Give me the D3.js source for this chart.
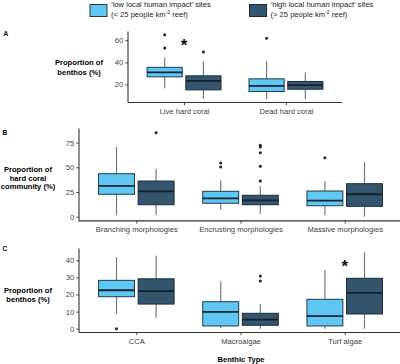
<!DOCTYPE html>
<html>
<head>
<meta charset="utf-8">
<script src="https://cdn.jsdelivr.net/npm/d3@7"></script>
<style>
  html, body { margin: 0; padding: 0; background: #ffffff; }
  svg { display: block; font-family: "Liberation Sans", Arial, sans-serif; }
</style>
</head>
<body>
<svg id="chart" width="400" height="364"></svg>
<script>
// ---------------- DATA ----------------
// box stats: [lower whisker, Q1, median, Q3, upper whisker]
const groupNames = ["low", "high"];

const catsA = ["Live hard coral", "Dead hard coral"];
const lowA  = [[16.6, 26.9, 30.9, 35.5, 44.5], [6.6, 13.6, 18.7, 25.1, 40.9]];
const highA = [[6.9, 15.1, 23.3, 27.8, 40.9], [6.6, 15.7, 19.4, 22.7, 30.9]];
const outLowA  = [[53, 65], [61.8]];
const outHighA = [[49.4], []];
const ticksA = [20, 40, 60];
const starA = [{cat: "Live hard coral", value: 59}];

const catsB = ["Branching morphologies", "Encrusting morphologies", "Massive morphologies"];
const lowB  = [[1.4, 22.7, 31.1, 43.5, 70.5], [7.1, 13.6, 18.6, 25.7, 36.8], [1.4, 11.1, 16.2, 26.0, 36.1]];
const highB = [[1.4, 12.1, 25.7, 36.1, 48.6], [2.7, 12.1, 16.6, 21.7, 31.1], [0, 10.5, 22.7, 33.4, 55.4]];
const outLowB  = [[], [50.3, 54.4], [59.7]];
const outHighB = [[85], [36.1, 51, 64.8, 70.6, 72.4], []];
const ticksB = [0, 25, 50, 75];
const starB = [];

const catsC = ["CCA", "Macroalgae", "Turf algae"];
const lowC  = [[8.6, 18.7, 22.5, 28.3, 41.8], [0.2, 1.6, 9.8, 15.8, 27.7], [0, 1.6, 7.4, 17.2, 34.3]];
const highC = [[6.4, 14.4, 22.0, 29.2, 42.7], [0, 2.0, 5.3, 9.0, 14.4], [0, 8.6, 21.0, 29.5, 44.7]];
const outLowC  = [[0], [], []];
const outHighC = [[], [27.9, 30.8], []];
const ticksC = [0, 10, 20, 30, 40];
const starC = [{cat: "Turf algae", value: 39}];

const legendLines = {
  low:  ["\u2018low local human impact\u2019 sites", "(< 25 people km", "-2", " reef)"],
  high: ["\u2018high local human impact\u2019 sites", "(> 25 people km", "-2", " reef)"]
};
const xAxisTitle = "Benthic Type";

// ---------------- STYLE ----------------
const fills = {low: "#5ec7f4", high: "#33556e"};
const strokes = {low: "#24394a", high: "#1b2c39"};
const fs = 7.6;

const svg = d3.select("#chart");

function drawPanel(o) {
  const g = svg.append("g");
  const all = [];
  [o.low, o.high].forEach(arr => arr.forEach(s => all.push(...s)));
  [o.outLow, o.outHigh].forEach(arr => arr.forEach(s => all.push(...s)));
  const mn = d3.min(all), mx = d3.max(all), ex = (mx - mn) * 0.05;
  const y = d3.scaleLinear().domain([mn - ex, mx + ex]).range([o.bottom, o.top]);
  const x = d3.scalePoint().domain(o.cats).range([o.left, o.right]).padding(0.55);
  const step = x.step();
  const bw = step * 0.345, off = step * 0.19;

  // axes
  const ya = d3.axisLeft(y).tickValues(o.ticks).tickSize(2.7).tickPadding(2);
  const yg = g.append("g").attr("transform", `translate(${o.left},0)`).call(ya);
  const xa = d3.axisBottom(x).tickSize(2.7).tickPadding(3);
  const xg = g.append("g").attr("transform", `translate(0,${o.bottom})`).call(xa);
  [yg, xg].forEach(a => {
    a.select(".domain").attr("stroke", "#333").attr("stroke-width", 1.1);
    a.selectAll(".tick line").attr("stroke", "#333").attr("stroke-width", 0.9);
    a.selectAll(".tick text").attr("fill", "#404040").style("font-size", fs + "px")
      .style("font-family", "Liberation Sans, Arial, sans-serif");
  });
  xg.selectAll(".tick text").attr("dy", "0.71em");
  xg.select(".domain").attr("d", `M${o.left},0H${o.right}`);
  yg.select(".domain").attr("d", `M0,${o.top}V${o.bottom}`);

  // boxes
  const groups = [{key: "low", stats: o.low, outs: o.outLow, dx: -off},
                  {key: "high", stats: o.high, outs: o.outHigh, dx: off}];
  groups.forEach(gr => {
    o.cats.forEach((c, i) => {
      const s = gr.stats[i];
      const cx = x(c) + gr.dx;
      g.append("line").attr("x1", cx).attr("x2", cx).attr("y1", y(s[0])).attr("y2", y(s[1]))
        .attr("stroke", "#7a7a7a").attr("stroke-width", 1.2);
      g.append("line").attr("x1", cx).attr("x2", cx).attr("y1", y(s[3])).attr("y2", y(s[4]))
        .attr("stroke", "#7a7a7a").attr("stroke-width", 1.2);
      g.append("rect").attr("x", cx - bw / 2).attr("width", bw)
        .attr("y", y(s[3])).attr("height", y(s[1]) - y(s[3]))
        .attr("fill", fills[gr.key]).attr("stroke", strokes[gr.key]).attr("stroke-width", 1);
      g.append("line").attr("x1", cx - bw / 2).attr("x2", cx + bw / 2).attr("y1", y(s[2])).attr("y2", y(s[2]))
        .attr("stroke", "#14222c").attr("stroke-width", 1.8);
      gr.outs[i].forEach(v => {
        g.append("circle").attr("cx", cx).attr("cy", y(v)).attr("r", 1.5).attr("fill", "#222");
      });
    });
  });

  // significance asterisks
  o.stars.forEach(st => {
    g.append("text").attr("x", x(st.cat)).attr("y", y(st.value) + 9.5)
      .attr("text-anchor", "middle").style("font-size", "17px").style("font-weight", "bold")
      .attr("fill", "#111").text("*");
  });

  // y title
  const t = g.append("text").attr("text-anchor", "middle").style("font-size", fs + "px")
    .style("font-weight", "bold").attr("fill", "#000");
  o.title.forEach((ln, i) => {
    t.append("tspan").attr("x", o.titleX).attr("y", o.titleY + i * o.titleLH).text(ln);
  });
  // panel letter
  g.append("text").attr("x", o.letterX).attr("y", o.letterY).style("font-size", "6.5px")
    .style("font-weight", "bold").attr("fill", "#000").text(o.letter);
  return {x, y};
}

drawPanel({cats: catsA, low: lowA, high: highA, outLow: outLowA, outHigh: outHighA, ticks: ticksA,
  stars: starA, left: 128, right: 342, top: 31.5, bottom: 102.5,
  title: ["Proportion of", "benthos (%)"], titleX: 79, titleY: 65, titleLH: 10,
  letter: "A", letterX: 3.5, letterY: 35.5});

drawPanel({cats: catsB, low: lowB, high: highB, outLow: outLowB, outHigh: outHighB, ticks: ticksB,
  stars: starB, left: 79, right: 402, top: 128.5, bottom: 220.9,
  title: ["Proportion of", "hard coral", "community (%)"], titleX: 28, titleY: 172, titleLH: 8.7,
  letter: "B", letterX: 2.5, letterY: 135});

drawPanel({cats: catsC, low: lowC, high: highC, outLow: outLowC, outHigh: outHighC, ticks: ticksC,
  stars: starC, left: 79, right: 402, top: 248.5, bottom: 332.5,
  title: ["Proportion of", "benthos (%)"], titleX: 28, titleY: 292.7, titleLH: 9.3,
  letter: "C", letterX: 2.5, letterY: 251});

// x axis title
svg.append("text").attr("x", 241).attr("y", 361.5).attr("text-anchor", "middle")
  .style("font-size", fs + "px").style("font-weight", "bold").attr("fill", "#000").text(xAxisTitle);

// legend
const legendPos = [{key: "low", x: 90}, {key: "high", x: 249.5}];
legendPos.forEach(lp => {
  const lg = svg.append("g");
  lg.append("rect").attr("x", lp.x).attr("y", 4.5).attr("width", 17).attr("height", 12)
    .attr("fill", fills[lp.key]).attr("stroke", strokes[lp.key]).attr("stroke-width", 1);
  const L = legendLines[lp.key];
  lg.append("text").attr("x", lp.x + 21).attr("y", 7.2).style("font-size", fs + "px")
    .attr("fill", "#222").text(L[0]);
  const t2 = lg.append("text").attr("x", lp.x + 21).attr("y", 16.7).style("font-size", fs + "px").attr("fill", "#222");
  t2.append("tspan").text(L[1]);
  t2.append("tspan").attr("dy", -3).style("font-size", "5px").text(L[2]);
  t2.append("tspan").attr("dy", 3).text(L[3]);
});
</script>
</body>
</html>
